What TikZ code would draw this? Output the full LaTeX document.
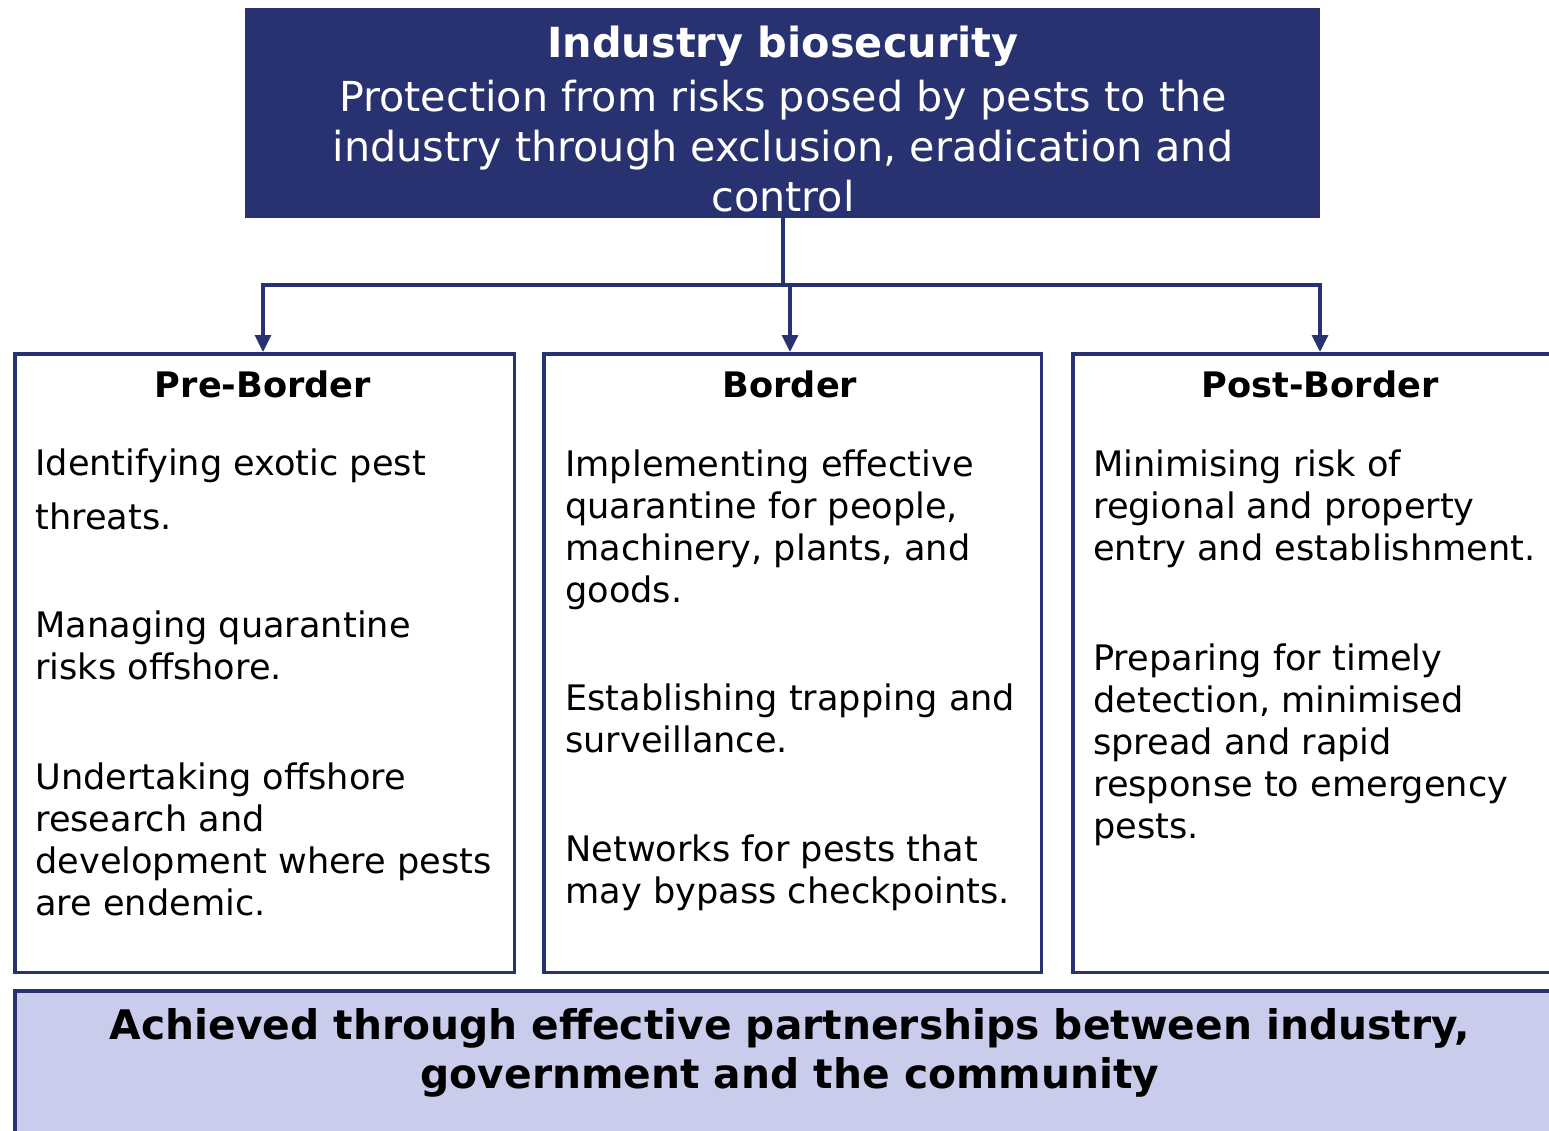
\documentclass[tikz,border=0pt]{standalone}
\usepackage{fontspec}
\setmainfont{DejaVu Sans}
\usetikzlibrary{arrows.meta}
\definecolor{navy}{RGB}{41,50,112}
\definecolor{lilac}{RGB}{201,204,235}
\begin{document}
\begin{tikzpicture}[x=0.02cm,y=-0.02cm]
	\tikzset{panel/.style={draw=navy, line width=2pt, anchor=north west, minimum height=12.38cm, inner sep=0},
		head/.style={anchor=base, font=\fontsize{20}{24}\selectfont\bfseries},
		para/.style={anchor=base west, align=left, inner sep=0, font=\fontsize{20}{23.8}\selectfont},
		link/.style={draw=navy, line width=2pt, line cap=rect},
		arr/.style={link, -{Triangle[length=9.6pt, width=9pt]}}}
	\useasboundingbox (0,0) rectangle (1549,1130);
	\clip (0,0) rectangle (1549,1130);

	% top box
	\node[fill=navy, anchor=north west, minimum width=21.5cm, minimum height=4.2cm, inner sep=0] at (245,8) (top) {};
	\node[anchor=base, text=white, font=\fontsize{23.6}{28}\selectfont\bfseries] at (783,57) (title) {Industry biosecurity};
	\node[anchor=base, text=white, align=center, inner sep=0, font=\fontsize{23.5}{28.3}\selectfont] at (783,211) (sub) {Protection from risks posed by pests to the\\industry through exclusion, eradication and\\control};

	% panels
	\node[panel, minimum width=10cm] at (13,352) (pre) {};
	\node[panel, minimum width=9.96cm] at (542,352) (bord) {};
	\node[panel, minimum width=10.2cm] at (1071,352) (post) {};

	% connectors
	\coordinate (jL) at (263,285);
	\coordinate (jM) at (790,285);
	\coordinate (jR) at (1320,285);
	\draw[arr] (top.south) |- (jL) -- (jL |- pre.north);
	\draw[arr] (top.south) |- (jR) -- (jR |- post.north);
	\draw[arr] (jM) -- (jM |- bord.north);

	% headings
	\node[head] at (263,397) (h1) {Pre-Border};
	\node[head] at (790,397) (h2) {Border};
	\node[head] at (1320,397) (h3) {Post-Border};

	% pre-border (anchored at the last line)
	\node[para] at (35,529) (p1) {Identifying exotic pest\\[6.8pt]threats.};
	\node[para] at (35,679) (p2) {Managing quarantine\\risks offshore.};
	\node[para] at (35,915) (p3) {Undertaking offshore\\research and\\development where pests\\are endemic.};

	% border
	\node[para] at (565,602) (b1) {Implementing effective\\quarantine for people,\\machinery, plants, and\\goods.};
	\node[para] at (565,752) (b2) {Establishing trapping and\\surveillance.};
	\node[para] at (565,903) (b3) {Networks for pests that\\may bypass checkpoints.};

	% post-border
	\node[para] at (1093,560) (q1) {Minimising risk of\\regional and property\\entry and establishment.};
	\node[para] at (1093,838) (q2) {Preparing for timely\\detection, minimised\\spread and rapid\\response to emergency\\pests.};

	% bottom band
	\node[fill=lilac, draw=navy, line width=2pt, anchor=north west, minimum width=31.5cm, minimum height=4cm, inner sep=0] at (13,989) (base) {};
	\node[anchor=base, align=center, inner sep=0, font=\fontsize{23.2}{27.8}\selectfont\bfseries] at (790,1088) (basetxt) {Achieved through effective partnerships between industry,\\government and the community};
\end{tikzpicture}
\end{document}
